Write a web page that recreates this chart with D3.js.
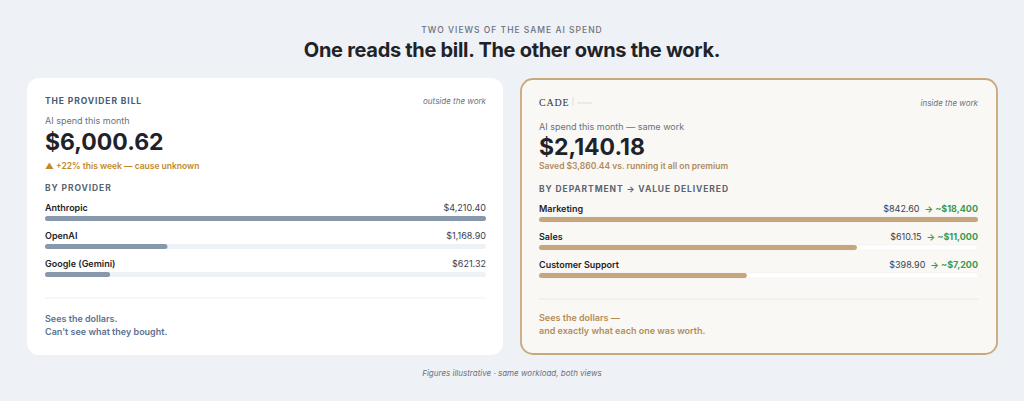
<!DOCTYPE html>
<html><head><meta charset="utf-8">
<script src="https://cdn.jsdelivr.net/npm/d3@7"></script>
<style>html,body{margin:0;background:#eef1f5;}svg{display:block;font-family:Inter,"Noto Sans",sans-serif;}</style>
</head><body><svg id="c" width="1024" height="401"></svg>
<script>
const providers = ["Anthropic","OpenAI","Google (Gemini)"];
const providerSpend = [4210.40,1168.90,621.32];
const departments = ["Marketing","Sales","Customer Support"];
const deptSpend = [842.60,610.15,398.90];
const deptValue = ["~$18,400","~$11,000","~$7,200"];

const svg = d3.select("#c");
const fmt = d3.format("$,.2f");
function t(x,y,s,o){const e=svg.append("text").attr("x",x).attr("y",y).text(s);
 for(const k in o) e.style(k,o[k]); return e;}

t(512,33,"TWO VIEWS OF THE SAME AI SPEND",{"font-size":"8.5px","fill":"#6b7280","letter-spacing":"1px","text-anchor":"middle","font-weight":"500"});
t(512,57,"One reads the bill. The other owns the work.",{"font-size":"20px","fill":"#1f2328","text-anchor":"middle","font-weight":"700","letter-spacing":"-0.3px"});
t(512,376,"Figures illustrative · same workload, both views",{"font-size":"8px","fill":"#6b7280","text-anchor":"middle","font-style":"italic"});

svg.append("rect").attr("x",27).attr("y",78).attr("width",476).attr("height",277).attr("rx",12).attr("fill","#fff");
svg.append("rect").attr("x",521).attr("y",79).attr("width",476).attr("height",275).attr("rx",12).attr("fill","#faf8f4").attr("stroke","#c9a77c").attr("stroke-width",1.8);

// left card
t(45,104,"THE PROVIDER BILL",{"font-size":"8.5px","fill":"#4a5a70","font-weight":"700","letter-spacing":"0.9px"});
t(486,104,"outside the work",{"font-size":"8px","fill":"#6b7280","font-style":"italic","text-anchor":"end"});
t(45,124,"AI spend this month",{"font-size":"9px","fill":"#6b7280"});
t(45,150,"$6,000.62",{"font-size":"23px","fill":"#1f2328","font-weight":"700"});
t(45,169,"▲ +22% this week — cause unknown",{"font-size":"8.5px","fill":"#c08a28","font-weight":"600"});
t(45,191,"BY PROVIDER",{"font-size":"8.5px","fill":"#5b6472","font-weight":"700","letter-spacing":"0.9px"});
const xl = d3.scaleLinear().domain([0,d3.max(providerSpend)]).range([0,441]);
const yl = d3.scaleBand().domain(providers).range([200,284]);
providers.forEach((p,i)=>{const y=yl(p);
 t(45,y+11,p,{"font-size":"9px","fill":"#1f2328","font-weight":"600"});
 t(486,y+11,fmt(providerSpend[i]),{"font-size":"9px","fill":"#374151","text-anchor":"end"});
 svg.append("rect").attr("x",45).attr("y",y+16).attr("width",441).attr("height",5).attr("rx",2.5).attr("fill","#eef1f5");
 svg.append("rect").attr("x",45).attr("y",y+16).attr("width",xl(providerSpend[i])).attr("height",5).attr("rx",2.5).attr("fill","#8797ac");
});
svg.append("line").attr("x1",45).attr("x2",486).attr("y1",298).attr("y2",298).attr("stroke","#edf0f3");
t(45,322,"Sees the dollars.",{"font-size":"9px","fill":"#5d7190","font-weight":"600"});
t(45,335,"Can't see what they bought.",{"font-size":"9px","fill":"#5d7190","font-weight":"600"});

// right card
t(539,106,"CADE",{"font-size":"10px","fill":"#333","font-family":"'Liberation Serif',serif","letter-spacing":"0.8px"});
svg.append("line").attr("x1",573).attr("x2",573).attr("y1",97).attr("y2",106).attr("stroke","#ddd");
svg.append("line").attr("x1",577).attr("x2",592).attr("y1",103).attr("y2",103).attr("stroke","#ddd");
t(978,106,"inside the work",{"font-size":"8px","fill":"#6b7280","font-style":"italic","text-anchor":"end"});
t(539,130,"AI spend this month — same work",{"font-size":"9px","fill":"#6b7280"});
t(539,155,"$2,140.18",{"font-size":"23px","fill":"#1f2328","font-weight":"700"});
t(539,169,"Saved $3,860.44 vs. running it all on premium",{"font-size":"8.5px","fill":"#b08a5c","font-weight":"600"});
t(539,192,"BY DEPARTMENT  →  VALUE DELIVERED",{"font-size":"8.5px","fill":"#5b6472","font-weight":"700","letter-spacing":"0.9px"});
const xr = d3.scaleLinear().domain([0,d3.max(deptSpend)]).range([0,439]);
const yr = d3.scaleBand().domain(departments).range([201,285]);
departments.forEach((p,i)=>{const y=yr(p);
 t(539,y+11,p,{"font-size":"9px","fill":"#1f2328","font-weight":"600"});
 const v=t(978,y+11,"→ "+deptValue[i],{"font-size":"9px","fill":"#3a9a4a","font-weight":"700","text-anchor":"end"});
 const w=v.node().getComputedTextLength();
 t(978-w-5,y+11,fmt(deptSpend[i]),{"font-size":"9px","fill":"#374151","text-anchor":"end"});
 svg.append("rect").attr("x",539).attr("y",y+16).attr("width",439).attr("height",5).attr("rx",2.5).attr("fill","#fff").attr("stroke","#eee").attr("stroke-width",0.5);
 svg.append("rect").attr("x",539).attr("y",y+16).attr("width",xr(deptSpend[i])).attr("height",5).attr("rx",2.5).attr("fill","#c6a67c");
});
svg.append("line").attr("x1",539).attr("x2",978).attr("y1",299).attr("y2",299).attr("stroke","#ece8e0");
t(539,321,"Sees the dollars —",{"font-size":"9px","fill":"#b48c5c","font-weight":"600"});
t(539,334,"and exactly what each one was worth.",{"font-size":"9px","fill":"#b48c5c","font-weight":"600"});
</script></body></html>
